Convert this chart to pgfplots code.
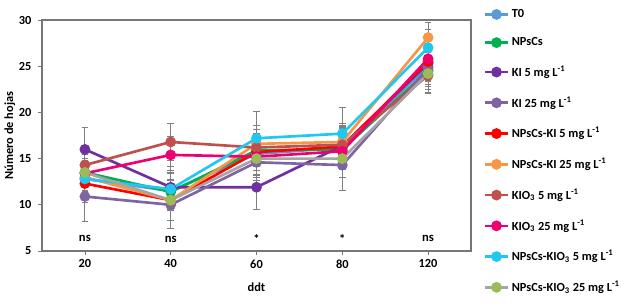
\documentclass[border=0pt]{standalone}
\usepackage{pgfplots}
\pgfplotsset{compat=1.18}
\usepackage{fontspec}
\setmainfont{Carlito}
\definecolor{cT}{RGB}{91,155,213}
\definecolor{cN}{RGB}{0,176,80}
\definecolor{cKa}{RGB}{112,48,160}
\definecolor{cKb}{RGB}{128,100,162}
\definecolor{cNKa}{RGB}{255,0,0}
\definecolor{cNKb}{RGB}{247,150,70}
\definecolor{cOa}{RGB}{192,80,77}
\definecolor{cOb}{RGB}{240,0,110}
\definecolor{cNOa}{RGB}{30,200,240}
\definecolor{cNOb}{RGB}{165,165,165}
\definecolor{cNObm}{RGB}{155,187,89}
\definecolor{frame}{RGB}{118,118,118}
\definecolor{errc}{RGB}{128,128,128}
\begin{document}
\begin{tikzpicture}
\useasboundingbox (-31.5bp,-41.25bp) rectangle (437.25bp,188.25bp);
\begin{axis}[
  at={(0,0)}, anchor=south west,
  scale only axis, width=321.75bp, height=173.25bp,
  xmin=-0.5, xmax=4.5, ymin=5, ymax=30,
  xtick={0,1,2,3,4}, xticklabels={20,40,60,80,120},
  ytick={5,10,15,20,25,30},
  xtick pos=bottom, ytick pos=left,
  tick align=outside, major tick length=3bp,
  axis line style={frame, line width=0.9pt},
  tick style={frame, line width=0.6pt},
  /pgf/number format/assume math mode=true,
  tick label style={font=\bfseries\fontsize{9.3}{11}\selectfont},
  yticklabel style={xshift=-1.5bp},
  xlabel={\bfseries ddt}, ylabel={\bfseries Número de hojas},
  label style={font=\bfseries\fontsize{9.3}{11}\selectfont},
  xlabel style={at={(axis description cs:0.5,-0.156)}, anchor=center},
  ylabel style={at={(axis description cs:-0.075,0.5)}, anchor=center},
  legend style={draw=none, fill=none, at={(axis description cs:1.02,1.07)}, anchor=north west,
    font=\bfseries\fontsize{9.3}{10.5}\selectfont, row sep=9.6pt, cells={anchor=west}},
  legend image post style={line width=2pt},
  every axis plot/.append style={line width=2pt, mark=*, mark size=3bp,
    error bars/y dir=both, error bars/y explicit,
    error bars/error bar style={errc, line width=0.7pt},
    error bars/error mark options={errc, line width=0.7pt, rotate=90, mark size=2.5bp}},
]
\addplot[cT, mark options={fill=cT}] coordinates {(0,12.8)+-(0,2.0) (1,11.5)+-(0,2.0) (2,15.5)+-(0,2.2) (3,16.2)+-(0,2.2) (4,25.0)+-(0,2.0)};
\addlegendentry{T0}
\addplot[cN, mark options={fill=cN}] coordinates {(0,13.5)+-(0,2.0) (1,11.4)+-(0,2.0) (2,15.9)+-(0,2.2) (3,16.0)+-(0,2.0) (4,24.5)+-(0,2.0)};
\addlegendentry{NPsCs}
\addplot[cKa, mark options={fill=cKa}] coordinates {(0,16.0)+-(0,2.4) (1,11.9)+-(0,2.2) (2,11.9)+-(0,2.4) (3,16.4)+-(0,2.2) (4,25.3)+-(0,2.0)};
\addlegendentry{KI 5 mg L\textsuperscript{-1}}
\addplot[cKb, mark options={fill=cKb}] coordinates {(0,10.9)+-(0,2.7) (1,10.0)+-(0,2.6) (2,14.6)+-(0,2.0) (3,14.3)+-(0,2.8) (4,24.8)+-(0,2.0)};
\addlegendentry{KI 25 mg L\textsuperscript{-1}}
\addplot[cNKa, mark options={fill=cNKa}] coordinates {(0,12.3)+-(0,2.0) (1,10.5)+-(0,2.2) (2,15.7)+-(0,2.0) (3,16.3)+-(0,2.0) (4,25.5)+-(0,2.0)};
\addlegendentry{NPsCs-KI 5 mg L\textsuperscript{-1}}
\addplot[cNKb, mark options={fill=cNKb}] coordinates {(0,13.0)+-(0,2.0) (1,10.5)+-(0,2.2) (2,16.6)+-(0,2.0) (3,16.8)+-(0,2.0) (4,28.1)+-(0,1.6)};
\addlegendentry{NPsCs-KI 25 mg L\textsuperscript{-1}}
\addplot[cOa, mark options={fill=cOa}] coordinates {(0,14.3)+-(0,2.0) (1,16.8)+-(0,2.0) (2,16.2)+-(0,2.0) (3,16.5)+-(0,2.0) (4,24.0)+-(0,2.0)};
\addlegendentry{KIO\textsubscript{3} 5 mg L\textsuperscript{-1}}
\addplot[cOb, mark options={fill=cOb}] coordinates {(0,13.4)+-(0,2.0) (1,15.4)+-(0,2.0) (2,15.2)+-(0,2.0) (3,15.8)+-(0,2.0) (4,25.8)+-(0,2.0)};
\addlegendentry{KIO\textsubscript{3} 25 mg L\textsuperscript{-1}}
\addplot[cNOa, mark options={fill=cNOa}] coordinates {(0,12.8)+-(0,2.0) (1,11.7)+-(0,2.0) (2,17.2)+-(0,2.9) (3,17.7)+-(0,2.8) (4,27.0)+-(0,2.0)};
\addlegendentry{NPsCs-KIO\textsubscript{3} 5 mg L\textsuperscript{-1}}
\addplot[cNOb, mark options={fill=cNObm, draw=cNObm}] coordinates {(0,13.5)+-(0,2.0) (1,10.5)+-(0,2.2) (2,15.0)+-(0,2.0) (3,15.0)+-(0,2.0) (4,24.2)+-(0,2.0)};
\addlegendentry{NPsCs-KIO\textsubscript{3} 25 mg L\textsuperscript{-1}}
\node[font=\bfseries\fontsize{9.5}{10}\selectfont] at (axis cs:0,6.4) {ns};
\node[font=\bfseries\fontsize{9.5}{10}\selectfont] at (axis cs:1,6.3) {ns};
\node[font=\bfseries\fontsize{9.5}{10}\selectfont] at (axis cs:2,6.3) {*};
\node[font=\bfseries\fontsize{9.5}{10}\selectfont] at (axis cs:3,6.3) {*};
\node[font=\bfseries\fontsize{9.5}{10}\selectfont] at (axis cs:4,6.4) {ns};
\end{axis}
\end{tikzpicture}
\end{document}
